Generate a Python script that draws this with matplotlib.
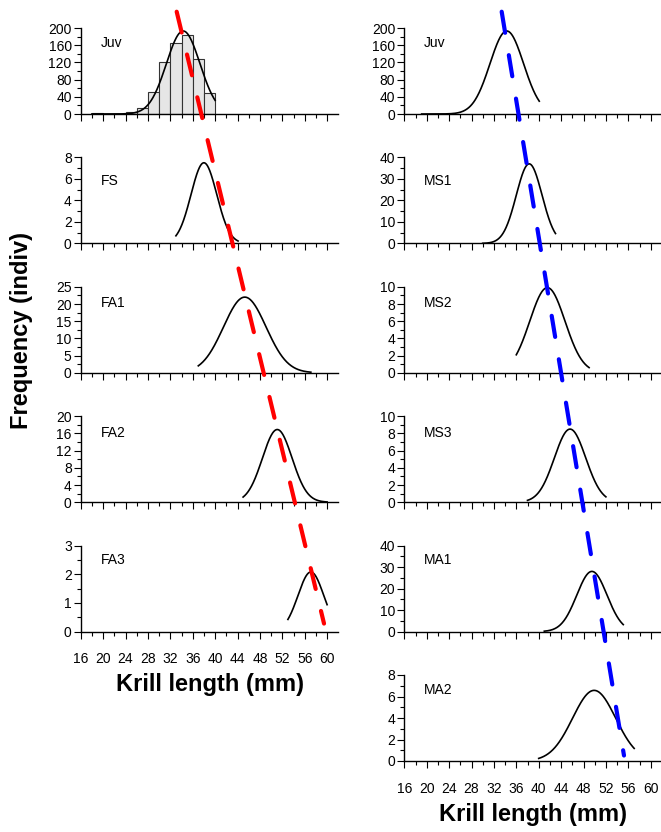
import numpy as np
import matplotlib
matplotlib.use("Agg")
import matplotlib.pyplot as plt
from matplotlib.patches import ConnectionPatch
from matplotlib.ticker import MultipleLocator, FixedLocator

plt.rcParams['font.family'] = ['Liberation Sans', 'DejaVu Sans']
plt.rcParams['lines.scale_dashes'] = False

# ---------------- data ----------------
hist_edges = [18, 20, 22, 24, 26, 28, 30, 32, 34, 36, 38, 40]
hist_counts = [1.5, 1, 1, 5, 14, 52, 120, 166, 184, 127, 49]

left_labels = ["Juv", "FS", "FA1", "FA2", "FA3"]
left_ymax = [200, 8, 25, 20, 3]
left_ymajor = [40, 2, 5, 4, 1]
left_mean = [34.3, 38.0, 45.3, 51.1, 57.1]
left_sd = [3.0, 2.3, 3.8, 2.65, 2.3]
left_peak = [193, 7.5, 22.0, 16.9, 2.08]
left_start = [18.0, 33.0, 37.0, 45.0, 53.0]
left_end = [40.0, 44.1, 57.1, 60.0, 60.0]

right_labels = ["Juv", "MS1", "MS2", "MS3", "MA1", "MA2"]
right_ymax = [200, 40, 10, 10, 40, 8]
right_ymajor = [40, 10, 2, 2, 10, 2]
right_mean = [34.3, 38.3, 41.55, 45.6, 49.5, 49.9]
right_sd = [3.0, 2.3, 3.15, 2.8, 2.7, 3.85]
right_peak = [193, 37, 9.9, 8.5, 28, 6.57]
right_start = [19.1, 30.0, 36.0, 38.0, 41.0, 40.0]
right_end = [40.1, 43.0, 49.0, 52.0, 55.1, 57.05]

x_major = [16, 20, 24, 28, 32, 36, 40, 44, 48, 52, 56, 60]
x_minor = [18, 22, 26, 30, 34, 38, 42, 46, 50, 54, 58]

# dashed trend lines: (x in mm, y in top/bottom panel units)
red_x = [33.14, 59.45]
red_y = [237.9, 0.28]
blue_x = [33.39, 55.23]
blue_y = [237.9, 0.51]

# ---------------- layout ----------------
W, H = 661, 832
fig = plt.figure(figsize=(W / 100, H / 100), dpi=100)

ax_w = 257.6 / W
ax_h = 86.0 / H
left_x0 = 80.7 / W
right_x0 = 404.3 / W
step = 129.4
label_y_left = [0.83, 0.72, 0.81, 0.806, 0.837]
label_y_right = [0.83, 0.73, 0.81, 0.806, 0.837, 0.826]


def make_axes(x0, i):
    bottom = 1 - (114.0 + step * i) / H
    ax = fig.add_axes([x0, bottom, ax_w, ax_h])
    ax.spines['top'].set_visible(False)
    ax.spines['right'].set_visible(False)
    ax.spines['left'].set_linewidth(1.0)
    ax.spines['bottom'].set_linewidth(1.0)
    ax.set_xlim(16, 62)
    ax.xaxis.set_major_locator(FixedLocator(x_major))
    ax.xaxis.set_minor_locator(FixedLocator(x_minor))
    ax.tick_params(axis='x', which='major', length=5, width=0.8, pad=10,
                   labelsize=10, direction='out')
    ax.tick_params(axis='x', which='minor', length=3, width=0.8, direction='out')
    ax.tick_params(axis='y', which='major', length=5, width=0.8, pad=1.5,
                   labelsize=10, direction='out')
    ax.tick_params(axis='y', which='minor', length=3, width=0.8, direction='out')
    return ax


def draw_column(x0, labels, ymax, ymajor, mean, sd, peak, start, end, label_y, hist=False):
    axes = []
    n = len(labels)
    for i in range(n):
        ax = make_axes(x0, i)
        ax.set_ylim(0, ymax[i])
        ax.yaxis.set_major_locator(MultipleLocator(ymajor[i]))
        ax.yaxis.set_minor_locator(MultipleLocator(ymajor[i] / 2))
        if hist and i == 0:
            ax.bar(hist_edges[:-1], hist_counts, width=2, align='edge',
                   color='#e6e6e6', edgecolor='#333333', linewidth=0.8, zorder=1)
        x = np.linspace(start[i], end[i], 300)
        y = peak[i] * np.exp(-0.5 * ((x - mean[i]) / sd[i]) ** 2)
        ax.plot(x, y, color='black', lw=1.2, zorder=3)
        ax.text(0.077, label_y[i], labels[i], transform=ax.transAxes,
                fontsize=10, va='center', ha='left')
        if i < n - 1:
            ax.tick_params(axis='x', labelbottom=False)
        else:
            ax.set_xlabel("Krill length (mm)", fontsize=17, fontweight='bold',
                          labelpad=5)
        axes.append(ax)
    return axes


axL = draw_column(left_x0, left_labels, left_ymax, left_ymajor, left_mean, left_sd,
                  left_peak, left_start, left_end, label_y_left, hist=True)
axR = draw_column(right_x0, right_labels, right_ymax, right_ymajor, right_mean, right_sd,
                  right_peak, right_start, right_end, label_y_right)

fig.text(0.033, 0.603, "Frequency (indiv)", rotation=90, fontsize=17,
         fontweight='bold', ha='center', va='center')

dash = (0, (15.4, 16.3))
con_r = ConnectionPatch(xyA=(red_x[0], red_y[0]), coordsA=axL[0].transData,
                        xyB=(red_x[1], red_y[1]), coordsB=axL[-1].transData,
                        color='#ff0000', lw=3, linestyle=dash, zorder=10)
con_b = ConnectionPatch(xyA=(blue_x[0], blue_y[0]), coordsA=axR[0].transData,
                        xyB=(blue_x[1], blue_y[1]), coordsB=axR[-1].transData,
                        color='#0000ff', lw=3, linestyle=dash, zorder=10)
fig.add_artist(con_r)
fig.add_artist(con_b)

fig.savefig("out.png", dpi=100)
